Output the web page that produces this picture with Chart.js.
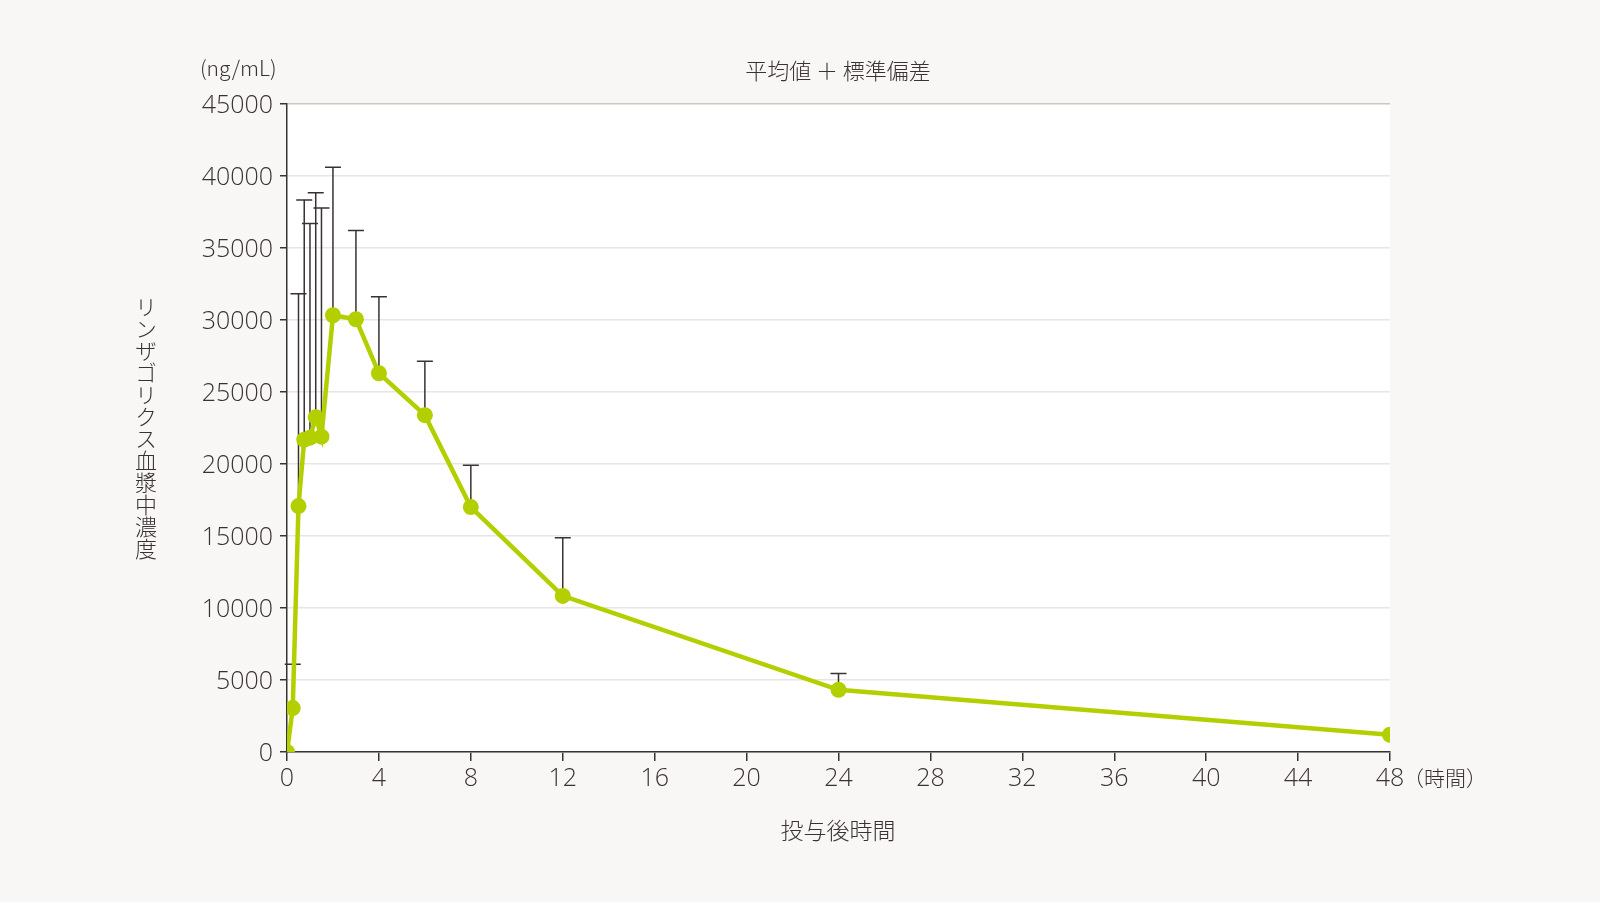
<!DOCTYPE html>
<html>
<head>
<meta charset="utf-8">
<script src="https://cdn.jsdelivr.net/npm/chart.js@4"></script>
<style>
  html, body { margin: 0; padding: 0; background: #f8f7f5; }
  #wrap { position: relative; width: 1600px; height: 902px; font-family: "Noto Sans CJK JP", "Noto Sans", sans-serif; color: #3a3232; font-weight: 300; }
  #wrap canvas { position: absolute; left: 0; top: 0; }
  .lbl { position: absolute; font-size: 23px; white-space: nowrap; line-height: 1; }
  #ytitle { writing-mode: vertical-rl; text-orientation: upright; font-size: 22px; }
</style>
</head>
<body>
<div id="wrap">
  <canvas id="chart" width="1600" height="902"></canvas>
  <div class="lbl" id="unit" style="left:200px; top:57px; font-size:21px;">(ng/mL)</div>
  <div class="lbl" id="title" style="left:838px; top:58px; transform:translateX(-50%); font-size:22px;">平均値 ＋ 標準偏差</div>
  <div class="lbl" id="ytitle" style="left:135px; top:296px;">リンザゴリクス血漿中濃度</div>
  <div class="lbl" id="xtitle" style="left:838px; top:818px; transform:translateX(-50%);">投与後時間</div>
  <div class="lbl" id="xunit" style="left:1403px; top:767px; font-size:21px;">（時間）</div>
</div>
<script>
// time after dose (h)
var hours = [0, 0.25, 0.5, 0.75, 1, 1.25, 1.5, 2, 3, 4, 6, 8, 12, 24, 48];
// mean plasma concentration (ng/mL)
var meanConc = [0, 3050, 17080, 21690, 21830, 23250, 21900, 30330, 30050, 26300, 23390, 17010, 10840, 4320, 1200];
// mean + SD (top of error bar)
var upperConc = [null, 6100, 31820, 38340, 36710, 38840, 37780, 40610, 36220, 31610, 27140, 19910, 14880, 5460, null];
var xTicks = [0, 4, 8, 12, 16, 20, 24, 28, 32, 36, 40, 44, 48];

var ink = '#3a3232';
var green = '#b4cf00';
var tickFont = { family: '"Open Sans", "Lato", sans-serif', size: 25, weight: 300 };

var errorBars = {
  id: 'errorBars',
  beforeDatasetsDraw: function(chart) {
    var ctx = chart.ctx;
    var xs = chart.scales.x, ys = chart.scales.y;
    ctx.save();
    ctx.strokeStyle = ink;
    ctx.lineWidth = 1.5;
    for (var i = 0; i < hours.length; i++) {
      if (upperConc[i] == null) continue;
      var px = xs.getPixelForValue(hours[i]);
      var y0 = ys.getPixelForValue(meanConc[i]);
      var y1 = ys.getPixelForValue(upperConc[i]);
      ctx.beginPath();
      ctx.moveTo(px, y0);
      ctx.lineTo(px, y1);
      ctx.moveTo(px - 8, y1);
      ctx.lineTo(px + 8, y1);
      ctx.stroke();
    }
    ctx.restore();
  }
};

var plotBg = {
  id: 'plotBg',
  beforeDraw: function(chart) {
    var a = chart.chartArea, ctx = chart.ctx;
    ctx.save();
    ctx.fillStyle = '#ffffff';
    ctx.fillRect(a.left, a.top, a.right - a.left, a.bottom - a.top);
    ctx.restore();
  }
};

var points = hours.map(function(h, i) { return { x: h, y: meanConc[i] }; });

new Chart(document.getElementById('chart').getContext('2d'), {
  type: 'line',
  data: {
    datasets: [{
      data: points,
      borderColor: green,
      backgroundColor: green,
      borderWidth: 4.5,
      pointRadius: 8,
      pointHoverRadius: 8,
      pointBorderWidth: 0,
      tension: 0
    }]
  },
  plugins: [plotBg, errorBars],
  options: {
    responsive: false,
    animation: false,
    devicePixelRatio: 1,
    layout: { padding: { top: 104, left: 0, right: 210, bottom: 0 } },
    plugins: { legend: { display: false }, tooltip: { enabled: false } },
    scales: {
      x: {
        type: 'linear',
        min: 0,
        max: 48,
        afterBuildTicks: function(scale) {
          scale.ticks = xTicks.map(function(v) { return { value: v }; });
        },
        afterFit: function(scale) { scale.height = 150; },
        grid: { drawOnChartArea: false, drawTicks: true, tickLength: 9, color: ink, lineWidth: 1.5 },
        border: { color: ink, width: 1.5 },
        ticks: { color: ink, padding: 3, maxRotation: 0, autoSkip: false, font: tickFont }
      },
      y: {
        min: 0,
        max: 45000,
        afterFit: function(scale) { scale.width = 287; },
        grid: {
          color: function(c) { return c.tick && c.tick.value === 45000 ? '#c8c8c8' : '#e6e6e6'; },
          lineWidth: 1.5,
          drawTicks: true,
          tickLength: 7,
          tickColor: ink
        },
        border: { color: ink, width: 1.5 },
        ticks: {
          stepSize: 5000,
          color: ink,
          padding: 7,
          labelOffset: 2,
          callback: function(v) { return String(v); },
          font: tickFont
        }
      }
    }
  }
});
</script>
</body>
</html>
